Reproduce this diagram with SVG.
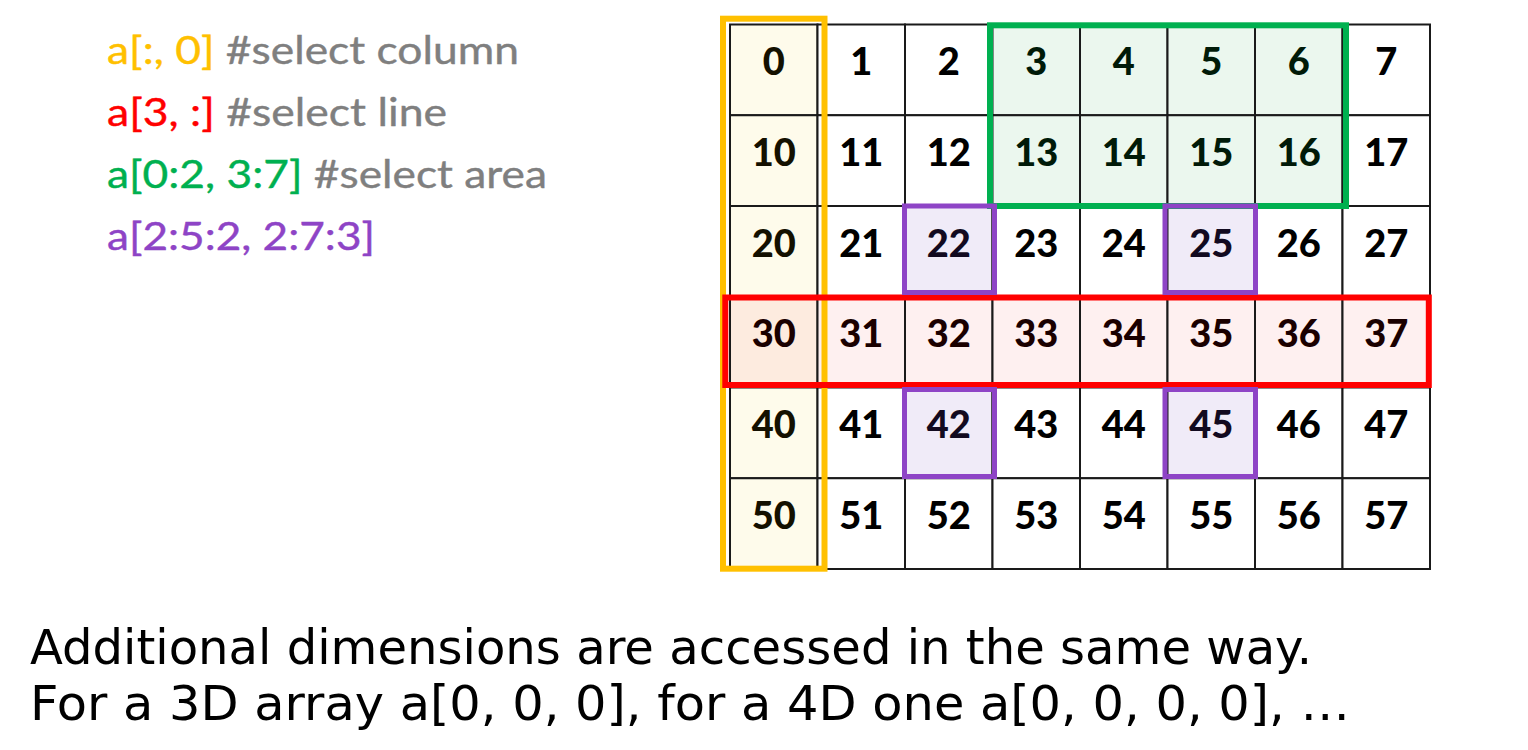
<svg xmlns="http://www.w3.org/2000/svg" width="1528" height="750" viewBox="0 0 1528 750">
<style>
.cell{stroke:#1a1a1a;stroke-width:2;fill:#ffffff}
.cy{fill:#fefbeb}
.cg{fill:#ebf7ee}
.cr{fill:#fef0f0}
.co{fill:#fdebdf}
.cp{fill:#f0ebf8}
.num{font-family:Lato,"Open Sans",sans-serif;font-weight:900;font-size:38px;text-anchor:middle;fill:#000}
.ty{fill:#141000}.tg{fill:#001a08}.tr{fill:#1a0000}.tp{fill:#120a20}
.sel{fill:none}
.code{font-family:Lato,"Open Sans",sans-serif;font-size:38px;stroke-width:0.4px}
.foot{font-family:"DejaVu Sans",Verdana,sans-serif;font-size:48.5px;fill:#000}
</style>
<rect width="1528" height="750" fill="#ffffff"/>
<g id="legend">
<text class="code" x="107" y="64" textLength="412" lengthAdjust="spacingAndGlyphs"><tspan fill="#ffc000" stroke="#ffc000">a[:, 0]</tspan><tspan fill="#7f7f7f" stroke="#7f7f7f"> #select column</tspan></text>
<text class="code" x="107" y="126" textLength="340" lengthAdjust="spacingAndGlyphs"><tspan fill="#ff0000" stroke="#ff0000">a[3, :]</tspan><tspan fill="#7f7f7f" stroke="#7f7f7f"> #select line</tspan></text>
<text class="code" x="107" y="188" textLength="440" lengthAdjust="spacingAndGlyphs"><tspan fill="#00b050" stroke="#00b050">a[0:2, 3:7]</tspan><tspan fill="#7f7f7f" stroke="#7f7f7f"> #select area</tspan></text>
<text class="code" x="107" y="250" textLength="268" lengthAdjust="spacingAndGlyphs" fill="#8e44c6" stroke="#8e44c6">a[2:5:2, 2:7:3]</text>
</g>
<g id="grid">
<g id="c0_0"><rect class="cell cy" x="730" y="24.5" width="87.5" height="90.75"/><text class="num ty" x="773.75" y="75">0</text></g>
<g id="c0_1"><rect class="cell" x="817.5" y="24.5" width="87.5" height="90.75"/><text class="num" x="861.25" y="75">1</text></g>
<g id="c0_2"><rect class="cell" x="905" y="24.5" width="87.5" height="90.75"/><text class="num" x="948.75" y="75">2</text></g>
<g id="c0_3"><rect class="cell cg" x="992.5" y="24.5" width="87.5" height="90.75"/><text class="num tg" x="1036.25" y="75">3</text></g>
<g id="c0_4"><rect class="cell cg" x="1080" y="24.5" width="87.5" height="90.75"/><text class="num tg" x="1123.75" y="75">4</text></g>
<g id="c0_5"><rect class="cell cg" x="1167.5" y="24.5" width="87.5" height="90.75"/><text class="num tg" x="1211.25" y="75">5</text></g>
<g id="c0_6"><rect class="cell cg" x="1255" y="24.5" width="87.5" height="90.75"/><text class="num tg" x="1298.75" y="75">6</text></g>
<g id="c0_7"><rect class="cell" x="1342.5" y="24.5" width="87.5" height="90.75"/><text class="num" x="1386.25" y="75">7</text></g>

<g id="c1_0"><rect class="cell cy" x="730" y="115.25" width="87.5" height="90.75"/><text class="num ty" x="773.75" y="165.75">10</text></g>
<g id="c1_1"><rect class="cell" x="817.5" y="115.25" width="87.5" height="90.75"/><text class="num" x="861.25" y="165.75">11</text></g>
<g id="c1_2"><rect class="cell" x="905" y="115.25" width="87.5" height="90.75"/><text class="num" x="948.75" y="165.75">12</text></g>
<g id="c1_3"><rect class="cell cg" x="992.5" y="115.25" width="87.5" height="90.75"/><text class="num tg" x="1036.25" y="165.75">13</text></g>
<g id="c1_4"><rect class="cell cg" x="1080" y="115.25" width="87.5" height="90.75"/><text class="num tg" x="1123.75" y="165.75">14</text></g>
<g id="c1_5"><rect class="cell cg" x="1167.5" y="115.25" width="87.5" height="90.75"/><text class="num tg" x="1211.25" y="165.75">15</text></g>
<g id="c1_6"><rect class="cell cg" x="1255" y="115.25" width="87.5" height="90.75"/><text class="num tg" x="1298.75" y="165.75">16</text></g>
<g id="c1_7"><rect class="cell" x="1342.5" y="115.25" width="87.5" height="90.75"/><text class="num" x="1386.25" y="165.75">17</text></g>

<g id="c2_0"><rect class="cell cy" x="730" y="206" width="87.5" height="90.75"/><text class="num ty" x="773.75" y="256.5">20</text></g>
<g id="c2_1"><rect class="cell" x="817.5" y="206" width="87.5" height="90.75"/><text class="num" x="861.25" y="256.5">21</text></g>
<g id="c2_2"><rect class="cell cp" x="905" y="206" width="87.5" height="90.75"/><text class="num tp" x="948.75" y="256.5">22</text></g>
<g id="c2_3"><rect class="cell" x="992.5" y="206" width="87.5" height="90.75"/><text class="num" x="1036.25" y="256.5">23</text></g>
<g id="c2_4"><rect class="cell" x="1080" y="206" width="87.5" height="90.75"/><text class="num" x="1123.75" y="256.5">24</text></g>
<g id="c2_5"><rect class="cell cp" x="1167.5" y="206" width="87.5" height="90.75"/><text class="num tp" x="1211.25" y="256.5">25</text></g>
<g id="c2_6"><rect class="cell" x="1255" y="206" width="87.5" height="90.75"/><text class="num" x="1298.75" y="256.5">26</text></g>
<g id="c2_7"><rect class="cell" x="1342.5" y="206" width="87.5" height="90.75"/><text class="num" x="1386.25" y="256.5">27</text></g>

<g id="c3_0"><rect class="cell co" x="730" y="296.75" width="87.5" height="90.75"/><text class="num tr" x="773.75" y="347.25">30</text></g>
<g id="c3_1"><rect class="cell cr" x="817.5" y="296.75" width="87.5" height="90.75"/><text class="num tr" x="861.25" y="347.25">31</text></g>
<g id="c3_2"><rect class="cell cr" x="905" y="296.75" width="87.5" height="90.75"/><text class="num tr" x="948.75" y="347.25">32</text></g>
<g id="c3_3"><rect class="cell cr" x="992.5" y="296.75" width="87.5" height="90.75"/><text class="num tr" x="1036.25" y="347.25">33</text></g>
<g id="c3_4"><rect class="cell cr" x="1080" y="296.75" width="87.5" height="90.75"/><text class="num tr" x="1123.75" y="347.25">34</text></g>
<g id="c3_5"><rect class="cell cr" x="1167.5" y="296.75" width="87.5" height="90.75"/><text class="num tr" x="1211.25" y="347.25">35</text></g>
<g id="c3_6"><rect class="cell cr" x="1255" y="296.75" width="87.5" height="90.75"/><text class="num tr" x="1298.75" y="347.25">36</text></g>
<g id="c3_7"><rect class="cell cr" x="1342.5" y="296.75" width="87.5" height="90.75"/><text class="num tr" x="1386.25" y="347.25">37</text></g>

<g id="c4_0"><rect class="cell cy" x="730" y="387.5" width="87.5" height="90.75"/><text class="num ty" x="773.75" y="438">40</text></g>
<g id="c4_1"><rect class="cell" x="817.5" y="387.5" width="87.5" height="90.75"/><text class="num" x="861.25" y="438">41</text></g>
<g id="c4_2"><rect class="cell cp" x="905" y="387.5" width="87.5" height="90.75"/><text class="num tp" x="948.75" y="438">42</text></g>
<g id="c4_3"><rect class="cell" x="992.5" y="387.5" width="87.5" height="90.75"/><text class="num" x="1036.25" y="438">43</text></g>
<g id="c4_4"><rect class="cell" x="1080" y="387.5" width="87.5" height="90.75"/><text class="num" x="1123.75" y="438">44</text></g>
<g id="c4_5"><rect class="cell cp" x="1167.5" y="387.5" width="87.5" height="90.75"/><text class="num tp" x="1211.25" y="438">45</text></g>
<g id="c4_6"><rect class="cell" x="1255" y="387.5" width="87.5" height="90.75"/><text class="num" x="1298.75" y="438">46</text></g>
<g id="c4_7"><rect class="cell" x="1342.5" y="387.5" width="87.5" height="90.75"/><text class="num" x="1386.25" y="438">47</text></g>

<g id="c5_0"><rect class="cell cy" x="730" y="478.25" width="87.5" height="90.75"/><text class="num ty" x="773.75" y="528.75">50</text></g>
<g id="c5_1"><rect class="cell" x="817.5" y="478.25" width="87.5" height="90.75"/><text class="num" x="861.25" y="528.75">51</text></g>
<g id="c5_2"><rect class="cell" x="905" y="478.25" width="87.5" height="90.75"/><text class="num" x="948.75" y="528.75">52</text></g>
<g id="c5_3"><rect class="cell" x="992.5" y="478.25" width="87.5" height="90.75"/><text class="num" x="1036.25" y="528.75">53</text></g>
<g id="c5_4"><rect class="cell" x="1080" y="478.25" width="87.5" height="90.75"/><text class="num" x="1123.75" y="528.75">54</text></g>
<g id="c5_5"><rect class="cell" x="1167.5" y="478.25" width="87.5" height="90.75"/><text class="num" x="1211.25" y="528.75">55</text></g>
<g id="c5_6"><rect class="cell" x="1255" y="478.25" width="87.5" height="90.75"/><text class="num" x="1298.75" y="528.75">56</text></g>
<g id="c5_7"><rect class="cell" x="1342.5" y="478.25" width="87.5" height="90.75"/><text class="num" x="1386.25" y="528.75">57</text></g>
</g>
<g id="selections">
<rect id="sel-column" class="sel" x="723" y="18.7" width="101.5" height="550" stroke="#ffc000" stroke-width="6"/>
<rect id="sel-area" class="sel" x="990" y="25.3" width="356" height="180.7" stroke="#00b050" stroke-width="6"/>
<rect id="sel-line" class="sel" x="725.3" y="297.5" width="703.5" height="87.5" stroke="#ff0000" stroke-width="6"/>
<rect id="sel-22" class="sel" x="904.5" y="206" width="90" height="86.5" stroke="#8e44c6" stroke-width="5"/>
<rect id="sel-25" class="sel" x="1165" y="206" width="90.5" height="86.5" stroke="#8e44c6" stroke-width="5"/>
<rect id="sel-42" class="sel" x="904.5" y="389.5" width="90" height="87" stroke="#8e44c6" stroke-width="5"/>
<rect id="sel-45" class="sel" x="1165" y="389.5" width="90.5" height="87" stroke="#8e44c6" stroke-width="5"/>
</g>
<g id="footer">
<text class="foot" x="30" y="664" textLength="1282" lengthAdjust="spacingAndGlyphs">Additional dimensions are accessed in the same way.</text>
<text class="foot" x="30" y="720" textLength="1320" lengthAdjust="spacingAndGlyphs">For a 3D array a[0, 0, 0], for a 4D one a[0, 0, 0, 0], …</text>
</g>
</svg>
